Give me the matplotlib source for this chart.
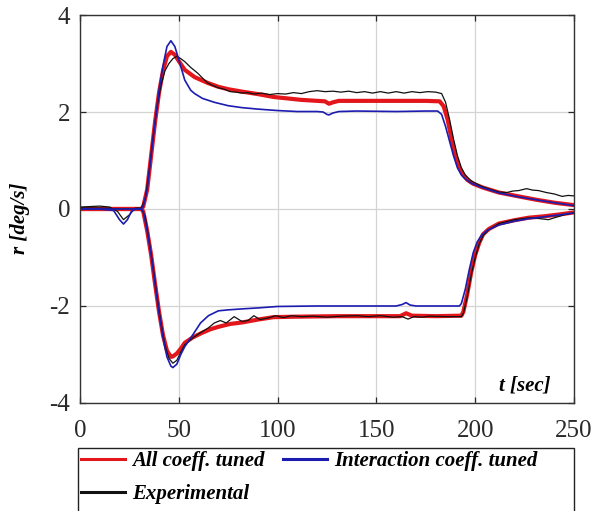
import matplotlib
matplotlib.use('Agg')
import matplotlib.pyplot as plt
from matplotlib.lines import Line2D
from matplotlib.patches import Rectangle

# Odziv r(t) - pozitivni i negativni manevar (vrijednosti ocitane sa slike)
t_pos_blue = [0, 10, 17, 20, 22, 24, 26, 28, 31, 32, 34, 36, 38, 40, 42, 44, 46, 48, 50, 53, 56, 58, 62, 68,
              75, 82, 90, 100, 110, 120, 123, 125, 126, 128, 131, 140, 160, 175, 181, 183, 185, 187, 189,
              191, 193, 195, 198, 203, 212, 222, 231, 240, 250]
r_pos_blue = [0.0, 0.0, -0.03, -0.22, -0.31, -0.22, -0.05, 0.0, 0.0, 0.05, 0.4, 1.1, 1.8, 2.45, 2.95, 3.35,
              3.47, 3.35, 3.08, 2.66, 2.45, 2.38, 2.28, 2.2, 2.13, 2.09, 2.06, 2.03, 2.01, 2.01, 2.0, 1.95,
              1.94, 1.98, 2.01, 2.02, 2.01, 2.02, 2.02, 1.95, 1.7, 1.4, 1.1, 0.85, 0.7, 0.62, 0.53, 0.45,
              0.33, 0.25, 0.19, 0.13, 0.07]

t_pos_red = [0, 31, 32, 34, 36, 38, 40, 42, 44, 46, 48, 50, 53, 58, 64.6, 70, 75, 82, 90, 98, 105, 112, 120,
             124, 126, 128, 131, 140, 160, 175, 182, 184, 186, 188, 190, 192, 194, 196, 199, 204, 212, 222,
             231, 240, 250]
r_pos_red = [0.0, 0.0, 0.05, 0.4, 1.1, 1.8, 2.4, 2.85, 3.15, 3.24, 3.18, 3.05, 2.87, 2.72, 2.6, 2.52, 2.47,
             2.42, 2.37, 2.31, 2.28, 2.25, 2.23, 2.22, 2.17, 2.2, 2.23, 2.23, 2.23, 2.23, 2.22, 2.12, 1.85,
             1.45, 1.1, 0.85, 0.7, 0.6, 0.52, 0.44, 0.34, 0.26, 0.19, 0.13, 0.08]

t_pos_exp = [0, 5, 10, 15, 19, 22, 25, 28, 31, 33, 35, 37, 39, 41, 43, 45, 47, 49, 51, 53, 56, 59.6, 62, 64.6,
             67, 70, 73, 76, 79, 82, 85, 88, 92, 96, 100, 104, 108, 112, 116, 120, 124, 128, 132, 136, 140,
             144, 148, 152, 156, 160, 164, 168, 172, 176, 180, 183, 185, 187, 189, 191, 193, 195, 198, 203,
             208, 212, 216, 219, 222, 226, 229, 232, 236, 240, 244, 247, 250]
r_pos_exp = [0.04, 0.05, 0.06, 0.04, -0.05, -0.22, -0.12, 0.02, 0.02, 0.2, 0.8, 1.5, 2.1, 2.55, 2.85, 3.0,
             3.1, 3.15, 3.1, 3.04, 2.92, 2.8, 2.7, 2.6, 2.55, 2.5, 2.47, 2.42, 2.41, 2.39, 2.4, 2.37, 2.39,
             2.36, 2.38, 2.37, 2.4, 2.38, 2.42, 2.44, 2.42, 2.43, 2.41, 2.43, 2.4, 2.42, 2.39, 2.42, 2.39,
             2.42, 2.39, 2.42, 2.4, 2.42, 2.41, 2.38, 2.2, 1.85, 1.45, 1.1, 0.85, 0.7, 0.58, 0.47, 0.4, 0.35,
             0.34, 0.37, 0.38, 0.42, 0.39, 0.38, 0.34, 0.31, 0.26, 0.28, 0.27]

t_neg_blue = [0, 31, 32, 34, 36, 38, 40, 42, 44, 46, 47, 49, 51, 53, 57, 61, 65, 70, 75, 82, 90, 100, 120, 140,
              160, 163, 165, 167, 170, 185, 192, 193, 195, 197, 199, 201, 203, 206, 212, 220, 227, 235, 243, 250]
r_neg_blue = [0.0, 0.0, -0.05, -0.45, -0.95, -1.55, -2.15, -2.65, -3.05, -3.24, -3.27, -3.2, -3.0, -2.84,
              -2.6, -2.35, -2.2, -2.1, -2.08, -2.06, -2.04, -2.01, -2.0, -2.0, -2.0, -1.97, -1.93, -1.98, -2.0,
              -2.0, -2.0, -1.95, -1.65, -1.25, -0.9, -0.68, -0.55, -0.44, -0.33, -0.25, -0.2, -0.16, -0.12, -0.08]

t_neg_red = [0, 31, 32, 34, 36, 38, 40, 42, 44, 46, 47, 49, 51, 53, 57, 61.4, 66, 70, 76, 82, 90, 98, 110, 130,
             150, 162, 165, 168, 180, 193, 194, 196, 198, 200, 202, 204, 207, 212, 220, 227, 235, 243, 250]
r_neg_red = [0.0, 0.0, -0.05, -0.45, -0.95, -1.55, -2.12, -2.6, -2.92, -3.05, -3.04, -2.98, -2.88, -2.76,
             -2.65, -2.56, -2.48, -2.43, -2.37, -2.34, -2.28, -2.23, -2.22, -2.21, -2.21, -2.21, -2.15, -2.2,
             -2.21, -2.2, -2.12, -1.75, -1.3, -0.95, -0.7, -0.52, -0.41, -0.3, -0.23, -0.18, -0.15, -0.11, -0.07]

t_neg_exp = [0, 10, 20, 31, 33, 35, 37, 39, 41, 43, 45, 47, 49, 51, 53, 57, 61, 65, 68, 71, 74, 78, 82, 85, 88,
             91, 95, 99, 103, 107, 112, 118, 125, 132, 140, 146, 152, 158, 163, 166, 169, 173, 177, 185, 193,
             194, 196, 198, 200, 202, 204, 207, 212, 220, 228, 233, 237, 241, 245, 250]
r_neg_exp = [0.02, 0.02, 0.0, 0.0, -0.15, -0.65, -1.2, -1.8, -2.35, -2.8, -3.08, -3.18, -3.12, -2.95, -2.8,
             -2.66, -2.55, -2.45, -2.35, -2.3, -2.35, -2.22, -2.32, -2.3, -2.2, -2.28, -2.25, -2.2, -2.24, -2.2,
             -2.22, -2.21, -2.23, -2.21, -2.2, -2.22, -2.2, -2.23, -2.22, -2.27, -2.22, -2.23, -2.21, -2.22,
             -2.22, -2.15, -1.8, -1.35, -1.0, -0.72, -0.55, -0.42, -0.3, -0.22, -0.18, -0.2, -0.22, -0.17,
             -0.12, -0.08]

x_ticks = [0, 50, 100, 150, 200, 250]
y_ticks = [-4, -2, 0, 2, 4]
legend_labels = ['All coeff. tuned', 'Experimental', 'Interaction coeff. tuned']

red = '#e3161b'
blue = '#1c1cb0'
black = '#111111'

plt.rcParams['font.family'] = 'Liberation Serif'
plt.rcParams['axes.unicode_minus'] = False

fig = plt.figure(figsize=(5.93, 5.11), dpi=100)
ax = fig.add_axes([0.1349, 0.2114, 0.8331, 0.7592])

ax.plot(t_pos_red, r_pos_red, color=red, lw=3.0)
ax.plot(t_neg_red, r_neg_red, color=red, lw=3.0)
ax.plot(t_pos_exp, r_pos_exp, color=black, lw=0.9)
ax.plot(t_neg_exp, r_neg_exp, color=black, lw=0.9)
ax.plot(t_pos_blue, r_pos_blue, color=blue, lw=1.2)
ax.plot(t_neg_blue, r_neg_blue, color=blue, lw=1.2)

ax.set_xlim(0, 250)
ax.set_ylim(-4, 4)
ax.set_xticks(x_ticks)
ax.set_yticks(y_ticks)
ax.grid(True, color='#d4d4d4', lw=0.9)
ax.tick_params(direction='in', length=4, width=0.9, top=True, right=True,
               labelsize=18, pad=7, colors='#262626', labelcolor='#2a2a2a')
ax.tick_params(axis='x', pad=12)
for s in ax.spines.values():
    s.set_color('#333333')
    s.set_linewidth(1.0)

ax.set_ylabel('r [deg/s]', fontsize=15, fontweight='bold', style='italic')
ax.yaxis.set_label_coords(-0.101, 0.4755)
ax.text(0.953, 0.046, 't [sec]', transform=ax.transAxes, ha='right', va='center',
        fontsize=15, fontweight='bold', style='italic')

# okvir legende - donji rub izlazi izvan slike
fig.add_artist(Rectangle((78 / 593, -0.05), 496 / 593, 0.05 + 63 / 511, transform=fig.transFigure,
                         fill=False, edgecolor='#222222', lw=1.0, clip_on=False))

handles = [Line2D([], [], color=red, lw=2.2),
           Line2D([], [], color=black, lw=2.2),
           Line2D([], [], color=blue, lw=2.2)]
leg = fig.legend(handles, legend_labels, ncol=2, loc='upper left',
                 bbox_to_anchor=(78 / 593, 1 - 448 / 511), frameon=False,
                 prop={'family': 'Liberation Serif', 'weight': 'bold', 'style': 'italic', 'size': 15},
                 handlelength=2.1, handletextpad=0.35, columnspacing=0.9,
                 labelspacing=0.62, borderpad=0.15, borderaxespad=0)

plt.savefig('out.png', dpi=100)
